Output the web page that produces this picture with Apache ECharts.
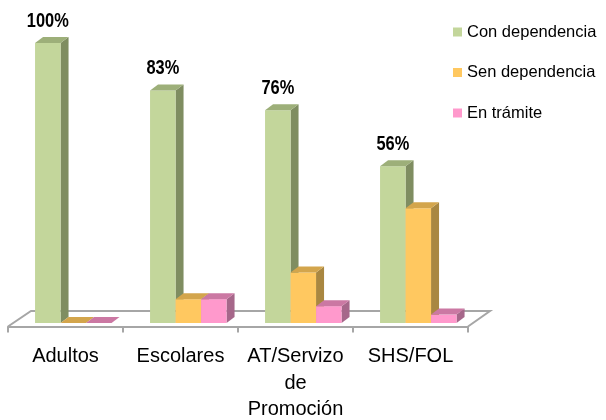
<!DOCTYPE html>
<html>
<head>
<meta charset="utf-8">
<script src="https://cdn.jsdelivr.net/npm/echarts@6/dist/echarts.min.js"></script>
<style>
  html, body { margin: 0; padding: 0; background: #fff; }
  #main { width: 606px; height: 420px; }
</style>
</head>
<body>
<div id="main"></div>
<script>
// categories and values (percent)
var categories = ['Adultos', 'Escolares', 'AT/Servizo\nde\nPromoción', 'SHS/FOL'];
var seriesNames = ['Con dependencia', 'Sen dependencia', 'En trámite'];
var conDependencia = [100, 83, 76, 56];
var senDependencia = [0, 8.5, 18, 41];
var enTramite = [0, 8.5, 6, 3];

var FONT = "'Liberation Sans', Arial, sans-serif";

// front / top / side shades for each series
var shades = [
    { front: '#C3D69B', top: '#9DAF79', side: '#7F8D61' },
    { front: '#FFC860', top: '#D3A54C', side: '#A98741' },
    { front: '#FF99CC', top: '#CB78A3', side: '#A6678A' }
]

var BAR_W = 25.5
var DEPTH_X = 8, DEPTH_Y = -6      // bar depth
var PLANE_X = 7.8, PLANE_Y = -3.5  // bars stand a little behind the floor front edge
var FLOOR_X = 23, FLOOR_Y = -15.5  // floor depth

function barRenderer(sIdx) {
    return function (params, api) {
        var idx = api.value(0)
        var v = api.value(1)
        var base = api.coord([idx, 0])
        var top = api.coord([idx, v])
        var x0 = base[0] + PLANE_X - 1.5 * BAR_W + sIdx * BAR_W
        var x1 = x0 + BAR_W
        var yb = base[1] + PLANE_Y
        var yt = top[1] + PLANE_Y
        var c = shades[sIdx]
        var kids = [
            {
                type: 'polygon',
                shape: { points: [[x1, yb], [x1 + DEPTH_X, yb + DEPTH_Y], [x1 + DEPTH_X, yt + DEPTH_Y], [x1, yt]] },
                style: { fill: c.side }
            },
            {
                type: 'rect',
                shape: { x: x0, y: yt, width: BAR_W, height: yb - yt },
                style: { fill: c.front }
            },
            {
                type: 'polygon',
                shape: { points: [[x0, yt], [x0 + DEPTH_X, yt + DEPTH_Y], [x1 + DEPTH_X, yt + DEPTH_Y], [x1, yt]] },
                style: { fill: c.top }
            }
        ]
        if (sIdx === 0) {
            // narrow bold label, like the condensed font of the original
            kids.push({
                type: 'text',
                x: x0 + BAR_W / 2,
                y: yt - 22,
                scaleX: 0.82,
                style: {
                    text: v + '%',
                    x: 0,
                    y: 0,
                    align: 'center',
                    verticalAlign: 'middle',
                    fill: '#000',
                    font: 'bold 20px ' + FONT
                }
            })
        }
        return { type: 'group', children: kids }
    }
}

function floorRenderer(params, api) {
    var first = api.coord([0, 0])
    var last = api.coord([categories.length - 1, 0])
    var half = api.size([1, 0])[0] / 2
    var l = first[0] - half, r = last[0] + half, y = first[1]
    return {
        type: 'polyline',
        shape: { points: [[l, y], [l + FLOOR_X, y + FLOOR_Y], [r + FLOOR_X - 1, y + FLOOR_Y], [r, y]] },
        style: { stroke: '#A6A6A6', lineWidth: 2, fill: null }
    }
}

function toData(arr) {
    return arr.map(function (v, i) { return [i, v] })
}

var valueLists = [conDependencia, senDependencia, enTramite]
var series = [{
    type: 'custom',
    renderItem: floorRenderer,
    data: [[0, 0]],
    z: 1,
    silent: true
}]
for (var s = 0; s < 3; s++) {
    series.push({
        name: seriesNames[s],
        type: 'custom',
        renderItem: barRenderer(s),
        itemStyle: { color: shades[s].front },
        data: toData(valueLists[s]),
        encode: { x: 0, y: 1 },
        z: 2 + s
    })
}

var myChart = echarts.init(document.getElementById('main'), null, { renderer: 'canvas' })
var option = {
    animation: false,
    backgroundColor: '#fff',
    grid: { left: 8, right: 138, top: 46.5, bottom: 93.5, containLabel: false, outerBoundsMode: 'none' },
    xAxis: {
        type: 'category',
        data: categories,
        axisLine: { show: true, lineStyle: { color: '#A6A6A6', width: 2 } },
        axisTick: { show: true, length: 6, lineStyle: { color: '#A6A6A6', width: 2 } },
        axisLabel: {
            interval: 0,
            margin: 17,
            color: '#000',
            fontSize: 20,
            lineHeight: 26.5,
            fontFamily: FONT
        }
    },
    yAxis: {
        type: 'value',
        min: 0,
        max: 100,
        show: false
    },
    legend: {
        data: seriesNames,
        orient: 'vertical',
        left: 448,
        top: 17,
        icon: 'rect',
        itemWidth: 9,
        itemHeight: 9,
        itemGap: 20.5,
        textStyle: { color: '#000', fontSize: 16.5, lineHeight: 20, fontFamily: FONT }
    },
    series: series
}
myChart.setOption(option)
</script>
</body>
</html>
